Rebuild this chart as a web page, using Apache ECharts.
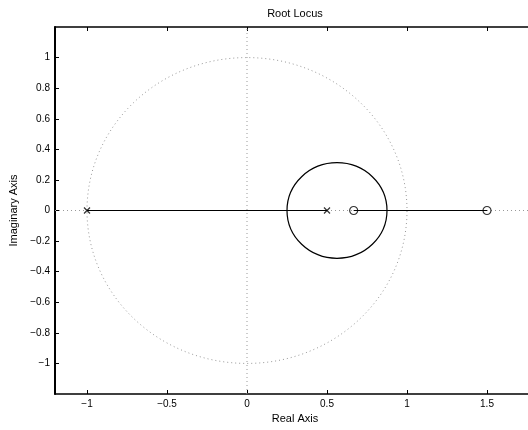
<!DOCTYPE html>
<html>
<head>
<meta charset="utf-8">
<script src="https://cdn.jsdelivr.net/npm/echarts@6/dist/echarts.min.js"></script>
<style>html,body{margin:0;padding:0;background:#fff;overflow:hidden}#c{width:545px;height:430px}</style>
</head>
<body>
<div id="c"></div>
<script>
// ---- data ----
const xTicks = [-1, -0.5, 0, 0.5, 1, 1.5];
const yTicks = [-1, -0.8, -0.6, -0.4, -0.2, 0, 0.2, 0.4, 0.6, 0.8, 1];
const poles = [[-1, 0], [0.5, 0]];
const zeros = [[0.6667, 0], [1.5, 0]];
const locusSeg1 = [[-1, 0], [0.5, 0]];
const locusSeg2 = [[0.6667, 0], [1.5, 0]];
const locusCircle = [[0.5625, 0, 0.3125]];   // center x, center y, radius
const unitCircle = [[0, 0, 1]];
const gridH = [[-1.2, 0], [1.8, 0]];
const gridV = [[0, -1.2], [0, 1.2]];

const FONT = 'Liberation Sans, Arial, Helvetica, sans-serif';
const fmt = v => String(Number(Number(v).toFixed(2))).replace('-', '\u2212');

function circleItem(stroke, dash, lw) {
  return function (params, api) {
    const c = api.coord([api.value(0), api.value(1)]);
    const s = api.size([api.value(2), api.value(2)]);
    return {
      type: 'ellipse',
      shape: { cx: c[0], cy: c[1], rx: s[0], ry: s[1] },
      style: { fill: null, stroke: stroke, lineWidth: lw, lineDash: dash }
    };
  };
}

const axisCommon = {
  type: 'value',
  splitLine: { show: false },
  axisLine: { show: true, onZero: false, lineStyle: { color: '#000', width: 1.5 } },
  axisTick: { show: true, inside: true, length: 4, lineStyle: { color: '#000', width: 1 } }
};

const chart = echarts.init(document.getElementById('c'), null, { renderer: 'canvas' });
chart.setOption({
  animation: false,
  backgroundColor: '#fff',
  textStyle: { fontFamily: FONT },
  grid: { left: 55, top: 27, width: 480, height: 367, containLabel: false },
  xAxis: [
    Object.assign({}, axisCommon, {
      position: 'bottom', min: -1.2, max: 1.8,
      axisTick: Object.assign({}, axisCommon.axisTick, { customValues: xTicks }),
      axisLabel: { customValues: xTicks, formatter: fmt, color: '#000', fontSize: 10, margin: 5, fontFamily: FONT },
      name: 'Real Axis', nameLocation: 'middle', nameGap: 18,
      nameTextStyle: { color: '#000', fontSize: 11, fontFamily: FONT }
    }),
    Object.assign({}, axisCommon, {
      position: 'top', min: -1.2, max: 1.8,
      axisTick: Object.assign({}, axisCommon.axisTick, { customValues: xTicks }),
      axisLabel: { show: false },
      name: 'Root Locus', nameLocation: 'middle', nameGap: 8,
      nameTextStyle: { color: '#000', fontSize: 11, fontFamily: FONT }
    })
  ],
  yAxis: [
    Object.assign({}, axisCommon, {
      position: 'left', min: -1.2, max: 1.2,
      axisLine: { show: true, onZero: false, lineStyle: { color: '#000', width: 2 } },
      axisTick: Object.assign({}, axisCommon.axisTick, { customValues: yTicks }),
      axisLabel: { customValues: yTicks, formatter: fmt, color: '#000', fontSize: 10, margin: 5, fontFamily: FONT },
      name: 'Imaginary Axis', nameLocation: 'middle', nameGap: 33,
      nameTextStyle: { color: '#000', fontSize: 11, fontFamily: FONT }
    }),
    Object.assign({}, axisCommon, {
      position: 'right', min: -1.2, max: 1.2,
      axisTick: Object.assign({}, axisCommon.axisTick, { customValues: yTicks }),
      axisLabel: { show: false }
    })
  ],
  series: [
    { type: 'line', data: gridH, showSymbol: false, symbol: 'none', lineStyle: { color: '#999', width: 1, type: [1, 3] }, z: 1 },
    { type: 'line', data: gridV, showSymbol: false, symbol: 'none', lineStyle: { color: '#999', width: 1, type: [1, 3] }, z: 1 },
    { type: 'custom', data: unitCircle, renderItem: circleItem('#999', [1, 3], 1), encode: { x: 0, y: 1 }, z: 1 },
    { type: 'line', data: locusSeg1, showSymbol: false, symbol: 'none', lineStyle: { color: '#000', width: 1.2 }, z: 3 },
    { type: 'line', data: locusSeg2, showSymbol: false, symbol: 'none', lineStyle: { color: '#000', width: 1.2 }, z: 3 },
    { type: 'custom', data: locusCircle, renderItem: circleItem('#000', null, 1.2), encode: { x: 0, y: 1 }, z: 3 },
    { type: 'scatter', data: poles, symbol: 'path://M0,0L10,10M10,0L0,10', symbolSize: 6,
      itemStyle: { color: 'rgba(0,0,0,0)', borderColor: '#000', borderWidth: 1.2 }, z: 4 },
    { type: 'scatter', data: zeros, symbol: 'circle', symbolSize: 8,
      itemStyle: { color: 'rgba(0,0,0,0)', borderColor: '#000', borderWidth: 1.2 }, z: 4 }
  ]
});
</script>
</body>
</html>
